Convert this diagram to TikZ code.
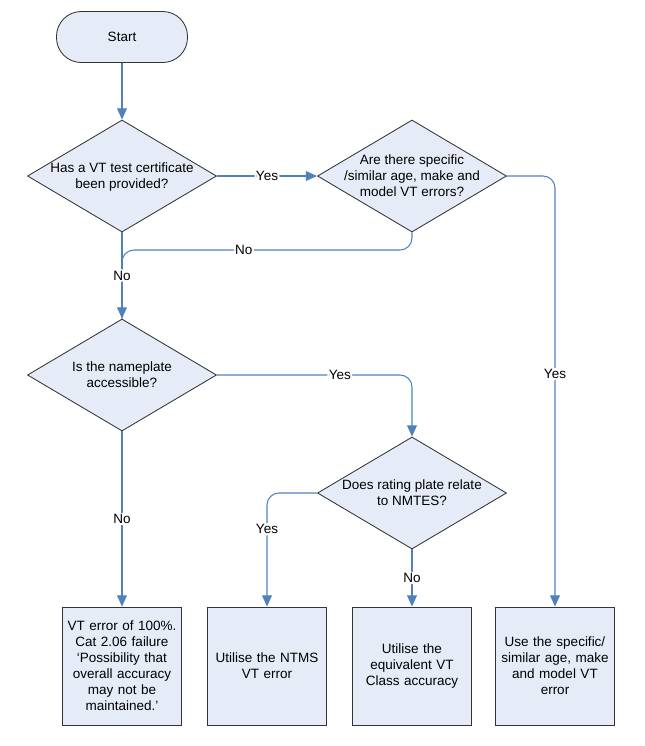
\documentclass[tikz,border=0pt]{standalone}
\usepackage{fontspec}
\setmainfont{Liberation Sans}
\usepackage{tikz}
\usetikzlibrary{arrows.meta,shapes.geometric}
\definecolor{boxfill}{HTML}{E6ECF7}
\definecolor{flowblue}{HTML}{4F81BD}
\newcommand{\qtext}[1]{\smash{\makebox[0pt]{\raisebox{-3.7pt}{\begin{tabular}{@{}c@{}}#1\end{tabular}}}}}
\tikzset{
    terminal/.style={
           rectangle, rounded corners=0.62cm,
           draw=black!80, line width=0.6pt,
           fill=boxfill,
           minimum width=3.275cm, minimum height=1.275cm,
           },
}
\tikzset{
    decision/.style={
           diamond,
           draw=black!80, line width=0.6pt,
           fill=boxfill,
           inner sep=0pt,
           minimum width=4.725cm, minimum height=2.8cm,
           },
}
\tikzset{
    outcome/.style={
           rectangle,
           draw=black!80, line width=0.6pt,
           fill=boxfill,
           inner sep=0pt,
           minimum width=2.975cm, minimum height=2.95cm,
           text width=2.8cm, align=center,
           },
}
\tikzset{
    flow/.style={draw=flowblue, line width=0.75pt, rounded corners=0.3cm,
           -{Triangle[width=7pt,length=8pt]}},
    link/.style={draw=flowblue, line width=0.75pt, rounded corners=0.3cm},
    tag/.style={fill=white, inner sep=1pt},
}

\begin{document}
\begin{tikzpicture}[x=0.025cm,y=-0.025cm,
    every node/.style={font=\fontsize{9.6}{11.4}\selectfont}]
\useasboundingbox (0,0) rectangle (645,746);
% shapes
\node[terminal](start) at (122,37){Start};
\node[decision](q1) at (122,176){\qtext{Has a VT test certificate\\been provided?}};
\node[decision](q2) at (412,176){\qtext{Are there specific\\/similar age, make and\\model VT errors?}};
\node[decision](q3) at (122,375){\qtext{Is the nameplate\\accessible?}};
\node[decision](q4) at (412,493){\qtext{Does rating plate relate\\to NMTES?}};
\node[outcome](r1) at (122,666){VT error of 100\%.\\Cat 2.06 failure\\‘Possibility that\\overall accuracy\\may not be\\maintained.’};
\node[outcome](r2) at (267,666){Utilise the NTMS\\VT error};
\node[outcome](r3) at (412,666){Utilise the\\equivalent VT\\Class accuracy};
\node[outcome](r4) at (555,666){Use the specific/\\similar age, make\\and model VT\\error};
\coordinate (merge) at (122,250);
% connectors
\draw[flow] (start) -- (q1);
\draw[flow] (q1) -- node[tag]{Yes} (q2);
\draw[link] (q2.south) |- node[tag,pos=0.79]{No} (merge) -- (q3.north);
\draw[flow] (q1) -- node[tag]{No} (q3);
\draw[flow] (q2.east) -| node[tag,pos=0.73]{Yes} (r4);
\draw[flow] (q3.east) -| node[tag,pos=0.315]{Yes} (q4);
\draw[flow] (q3) -- node[tag]{No} (r1);
\draw[flow] (q4.west) -| node[tag,pos=0.66]{Yes} (r2);
\draw[flow] (q4) -- node[tag]{No} (r3);
\end{tikzpicture}
\end{document}
